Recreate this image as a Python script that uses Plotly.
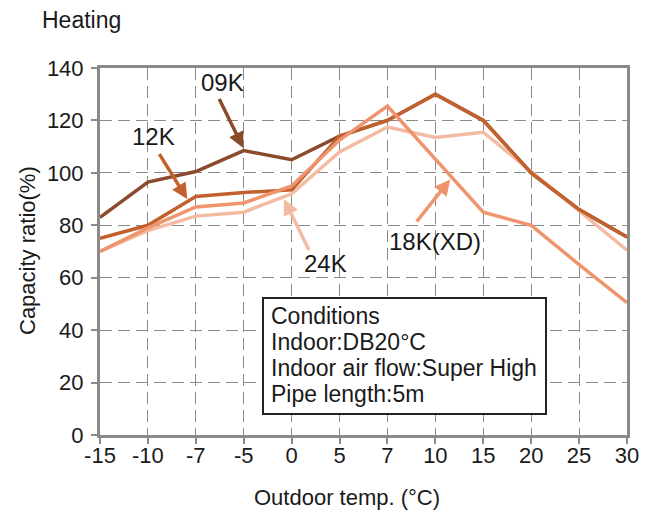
import plotly.graph_objects as go

temps = ["-15", "-10", "-7", "-5", "0", "5", "7", "10", "15", "20", "25", "30"]
cap_09k = [83, 96.5, 100.5, 108.5, 105, 114, 120, 130, 120, 100, 86, 75.5]
cap_12k = [75, 80, 91, 92.5, 93.5, 114, 120, 130, 120, 100, 86, 75.5]
cap_18k = [70, 79, 87, 88.5, 95, 112.5, 125.5, 105, 85, 80, 65, 50.5]
cap_24k = [70, 78, 83.5, 85, 92, 108, 117.5, 113.5, 115.5, 100.5, 85.5, 70.5]
y_ticks = [0, 20, 40, 60, 80, 100, 120, 140]
condition_lines = ["Conditions", "Indoor:DB20°C", "Indoor air flow:Super High", "Pipe length:5m"]

colors = {"09K": "#8C4A2D", "12K": "#C2612E", "18K": "#EE956E", "24K": "#F3BBA2"}
FONT = "Liberation Sans, Arial, sans-serif"
TXT = "#1a1a1a"
GRAY = "#8a8a8a"

W, H = 645, 512
L, R, T, B = 92, 26, 60, 85
PW, PH = W - L - R, H - T - B


def px(fx):
    return (fx - L) / PW


def py(fy):
    return (T + PH - fy) / PH


fig = go.Figure()
for name, vals in [("09K", cap_09k), ("24K", cap_24k), ("12K", cap_12k), ("18K", cap_18k)]:
    fig.add_trace(go.Scatter(x=temps, y=vals, mode="lines", name=name,
                             line=dict(color=colors[name], width=3.5), showlegend=False))

# arrows: (head x index, head y, tail dx, tail dy, color)
arrows = [
    (2.99, 109.5, -25, -51, colors["09K"]),
    (1.82, 90.0, -29, -47, colors["12K"]),
    (3.84, 90.0, 26, 53, colors["24K"]),
    (7.31, 97.5, -35, 44, colors["18K"]),
]
for hx, hy, dx, dy, c in arrows:
    fig.add_annotation(x=hx, y=hy, xref="x", yref="y", text=" ", font=dict(size=1),
                       showarrow=True, ax=dx, ay=dy, arrowhead=2, arrowsize=0.9,
                       arrowwidth=3.5, arrowcolor=c, standoff=0, startstandoff=0)

labels = [("09K", 2.55, 134.5), ("12K", 1.11, 114.0), ("24K", 4.7, 65.5), ("18K(XD)", 7.0, 74.0)]
for t, lx, ly in labels:
    fig.add_annotation(x=lx, y=ly, xref="x", yref="y", text=t, showarrow=False,
                       font=dict(family=FONT, size=24, color=TXT))

# conditions box
fig.add_shape(type="rect", xref="paper", yref="paper",
              x0=px(255), x1=px(538), y0=py(406), y1=py(290),
              line=dict(color="#222222", width=2), fillcolor="white", layer="above")
for i, t in enumerate(condition_lines):
    fig.add_annotation(x=px(261), y=py(308 + 26 * i), xref="paper", yref="paper",
                       xanchor="left", yanchor="middle", text=t, showarrow=False,
                       font=dict(family=FONT, size=23, color=TXT))

# axis titles
fig.add_annotation(x=px(19), y=py(243), xref="paper", yref="paper", text="Capacity ratio(%)",
                   xanchor="center", yanchor="middle",
                   textangle=-90, showarrow=False, font=dict(family=FONT, size=22, color=TXT))
fig.add_annotation(x=px(339), y=py(489), xref="paper", yref="paper", text="Outdoor temp. (°C)",
                   xanchor="center", yanchor="middle",
                   showarrow=False, font=dict(family=FONT, size=22, color=TXT))

fig.update_layout(
    width=W, height=H,
    margin=dict(l=L, r=R, t=T, b=B),
    paper_bgcolor="white", plot_bgcolor="white",
    font=dict(family=FONT, color=TXT, size=20),
    title=dict(text="Heating", x=34 / W, xanchor="left", y=1 - 11.5 / H, yanchor="middle",
               font=dict(family=FONT, size=23, color=TXT)),
)
fig.update_xaxes(type="category", categoryorder="array", categoryarray=temps, range=[0, 11],
                 showline=True, linecolor=GRAY, linewidth=3, mirror=True,
                 showgrid=True, gridcolor=GRAY, gridwidth=1.3, griddash="12px,6px",
                 ticks="outside", ticklen=6, tickwidth=1.5, tickcolor=GRAY,
                 tickfont=dict(family=FONT, size=22, color=TXT), ticklabelstandoff=-7,
                 zeroline=False, fixedrange=True)
fig.update_yaxes(range=[0, 140], tickvals=y_ticks,
                 showline=True, linecolor=GRAY, linewidth=3, mirror=True,
                 showgrid=True, gridcolor=GRAY, gridwidth=1.3, griddash="12px,6px",
                 ticks="outside", ticklen=6, tickwidth=1.5, tickcolor=GRAY,
                 tickfont=dict(family=FONT, size=22, color=TXT), ticklabelstandoff=3,
                 zeroline=False, fixedrange=True)

fig.write_html("out.html")
